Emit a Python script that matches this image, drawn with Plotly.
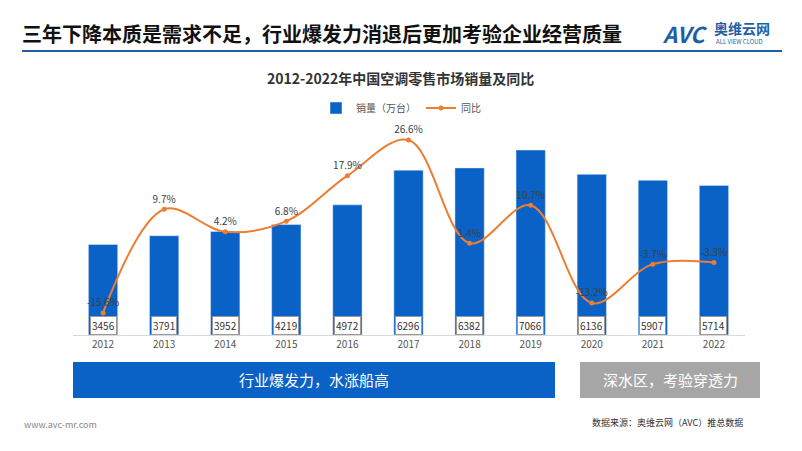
import plotly.graph_objects as go

years = ["2012","2013","2014","2015","2016","2017","2018","2019","2020","2021","2022"]
sales = [3456,3791,3952,4219,4972,6296,6382,7066,6136,5907,5714]
yoy = [-15.6,9.7,4.2,6.8,17.9,26.6,1.4,10.7,-13.2,-3.7,-3.3]
yoy_labels = ["-15.6%","9.7%","4.2%","6.8%","17.9%","26.6%","1.4%","10.7%","-13.2%","-3.7%","-3.3%"]

xs = list(range(len(years)))
OFF = 8
W, H = 802 - 2 * OFF, 451 - 2 * OFF
def px(x): return (x - OFF) / W
def py(y): return (H - (y - OFF)) / H
L, R, T, B = 72.5, 744.5, 120, 335
fig = go.Figure()
fig.add_bar(x=xs, y=sales, name="销量（万台）", marker_color="#0A61C6", width=0.48, yaxis="y")
fig.add_scatter(x=xs, y=yoy, name="同比", yaxis="y2", mode="lines+markers+text",
                line=dict(color="#ED7D31", width=2, shape="spline", smoothing=1.0),
                marker=dict(size=5, color="#ED7D31"),
                text=yoy_labels, textposition="top center", cliponaxis=False,
                textfont=dict(size=10, color="#404040"))

for i, v in zip(xs, sales):
    fig.add_annotation(x=i, y=0, xref="x", yref="y", yshift=10, text=str(v), showarrow=False,
                       bgcolor="white", bordercolor="#999999", borderwidth=1, borderpad=1,
                       font=dict(size=10, color="#333333"))

fig.update_layout(
    width=W, height=H, margin=dict(l=0, r=0, t=0, b=0),
    paper_bgcolor="white", plot_bgcolor="white",
    font=dict(family="Noto Sans CJK SC, sans-serif"),
    showlegend=True,
    legend=dict(orientation="h", x=px(401), xanchor="center", y=py(108), yanchor="middle",
                font=dict(size=10, color="#555555")),
    xaxis=dict(domain=[px(L), px(R)], range=[-0.5, 10.5], tickvals=xs, ticktext=years,
               showline=True, linecolor="#D9D9D9", showgrid=False, zeroline=False,
               tickfont=dict(size=10, color="#555555"), ticks=""),
    yaxis=dict(domain=[py(B), py(T)], range=[0, 8212], visible=False),
    yaxis2=dict(overlaying="y", range=[-21, 31.5], visible=False),
    shapes=[
        dict(type="line", xref="paper", yref="paper", x0=px(22), x1=px(782), y0=py(51), y1=py(51),
             line=dict(color="#1F5FA8", width=2)),
        dict(type="rect", xref="paper", yref="paper", x0=px(73), x1=px(555), y0=py(398), y1=py(362),
             fillcolor="#0A61C6", line=dict(color="#0A61C6", width=0)),
        dict(type="rect", xref="paper", yref="paper", x0=px(580), x1=px(760), y0=py(398), y1=py(362),
             fillcolor="#A6A6A6", line=dict(color="#A6A6A6", width=0)),
    ],
)
def ann(x, y, text, size, color="#000", xanchor="center", bold=False):
    fig.add_annotation(x=px(x), y=py(y), xref="paper", yref="paper", text=("<b>%s</b>" % text) if bold else text,
                       showarrow=False, xanchor=xanchor, yanchor="middle", font=dict(size=size, color=color))
ann(20, 33, "三年下降本质是需求不足，行业爆发力消退后更加考验企业经营质量", 20, "#111", "left", True)
ann(400, 78, "2012-2022年中国空调零售市场销量及同比", 14, "#333", "center", True)
ann(314, 380, "行业爆发力，水涨船高", 15, "white")
ann(670, 380, "深水区，考验穿透力", 15, "white")
ann(22, 424, "www.avc-mr.com", 9, "#888", "left")
ann(745, 422, "数据来源：奥维云网（AVC）推总数据", 9, "#333", "right")
ann(660, 33, "<i>AVC</i>", 22, "#1F5FA8", "left", True)
ann(712, 28, "奥维云网", 14, "#1F5FA8", "left", True)
ann(714, 41, "ALL VIEW CLOUD", 6, "#1F5FA8", "left")
fig.write_html("out.html")
